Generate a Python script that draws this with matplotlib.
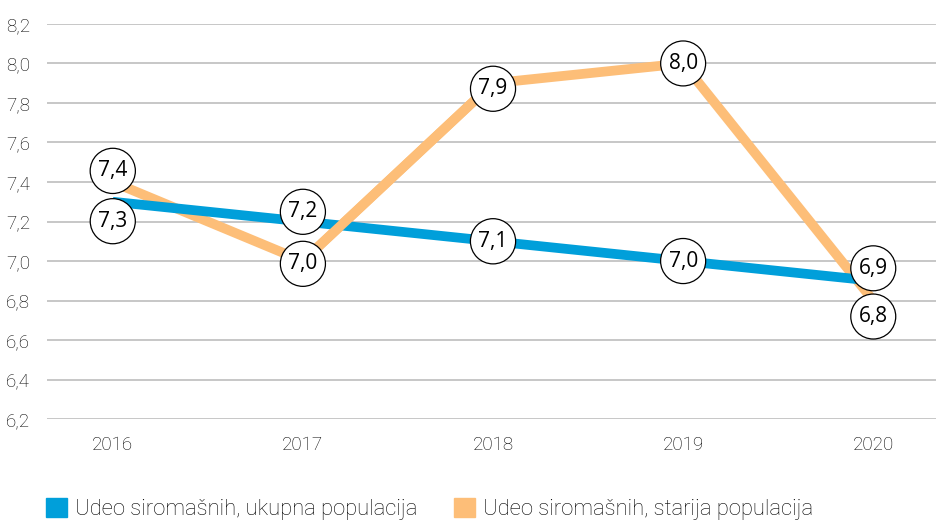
import matplotlib
matplotlib.use("Agg")
import matplotlib.pyplot as plt
from matplotlib.patches import Patch
from matplotlib.ticker import FuncFormatter

# data
years = ["2016", "2017", "2018", "2019", "2020"]
total_pop = [7.3, 7.2, 7.1, 7.0, 6.9]
older_pop = [7.4, 7.0, 7.9, 8.0, 6.8]
series_names = ["Udeo siromašnih, ukupna populacija",
                "Udeo siromašnih, starija populacija"]

# label circle nudges (points) so that circles do not overlap
total_offsets = [-14, 7, 0, 0, 9]
older_offsets = [8, -2, -4, 0, -11.5]

BLUE = "#009FDA"
ORANGE = "#FDBE78"
GRID = "#C3C3C3"

plt.rcParams["font.family"] = ["Roboto", "DejaVu Sans"]

fig = plt.figure(figsize=(9.36, 5.2), dpi=100)
ax = fig.add_axes([0.050, 0.194, 0.950, 0.760])

x = list(range(len(years)))

ax.plot(x, older_pop, color=ORANGE, lw=7, solid_capstyle="butt", zorder=2)
ax.plot(x, total_pop, color=BLUE, lw=7, solid_capstyle="butt", zorder=3)
# in the reference the orange 2017-2018 segment sits above the blue line
ax.plot(x[1:3], older_pop[1:3], color=ORANGE, lw=7, solid_capstyle="butt", zorder=4)


def fmt(v):
    return f"{v:.1f}".replace(".", ",")


for vals, offs in ((total_pop, total_offsets), (older_pop, older_offsets)):
    for xi, v, off in zip(x, vals, offs):
        ax.annotate(fmt(v), (xi, v), xytext=(0, off), textcoords="offset points",
                    ha="center", va="center", fontsize=15, family="Open Sans",
                    color="black", zorder=6,
                    bbox=dict(boxstyle="circle,pad=0.38", fc="white", ec="black", lw=0.9))

ax.set_xlim(-0.347, 4.33)
ax.set_ylim(6.2, 8.2)
ax.set_yticks([6.2 + 0.2 * i for i in range(11)])
ax.yaxis.set_major_formatter(FuncFormatter(lambda v, p: fmt(v)))
ax.set_xticks(x)
ax.set_xticklabels(years)

ax.grid(axis="y", color=GRID, lw=1.3)
ax.set_axisbelow(True)
for s in ax.spines.values():
    s.set_visible(False)
ax.tick_params(length=0, labelsize=13.5, colors="#000000")
ax.tick_params(axis="y", pad=12)
ax.tick_params(axis="x", pad=12)
for lab in ax.get_xticklabels() + ax.get_yticklabels():
    lab.set_fontweight("light")

handles = [Patch(color=BLUE), Patch(color=ORANGE)]
leg = fig.legend(handles, series_names, loc="lower left", bbox_to_anchor=(0.049, 0.0),
                 ncol=2, frameon=False, fontsize=15.8, handlelength=0.95, handleheight=0.95,
                 handletextpad=0.36, columnspacing=1.7, borderpad=0.0, borderaxespad=0.0)
for t in leg.get_texts():
    t.set_color("#000000")
    t.set_fontweight("light")

fig.savefig("out.png", dpi=100)
